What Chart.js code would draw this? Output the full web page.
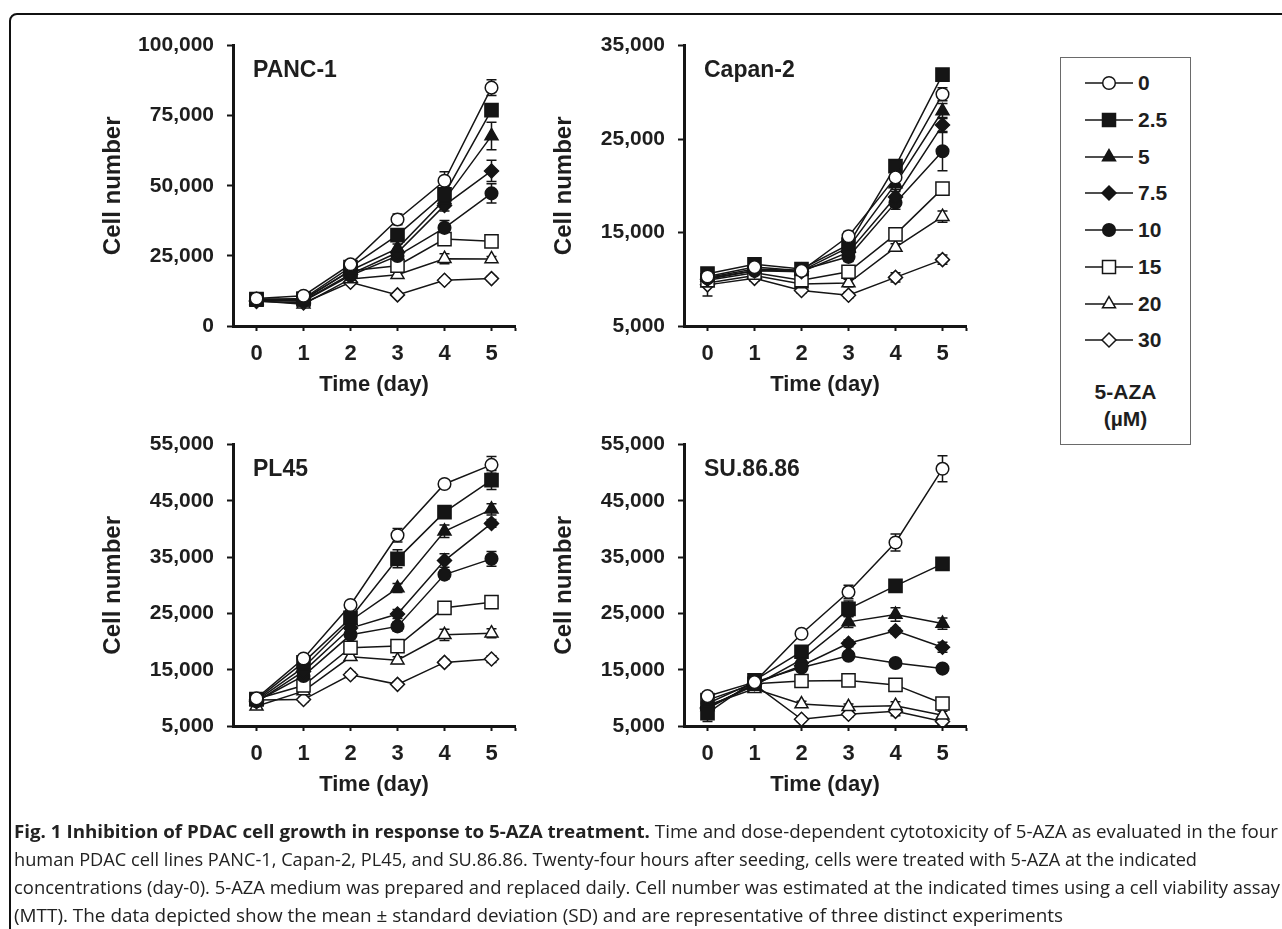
<!DOCTYPE html>
<html>
<head>
<meta charset="utf-8">
<script src="https://cdn.jsdelivr.net/npm/chart.js@4.4.0/dist/chart.umd.min.js"></script>
<style>
  html, body { margin:0; padding:0; background:#fff; width:1282px; height:929px; overflow:hidden; }
  body { position:relative; }
  .frame { position:absolute; left:9px; top:13px; width:1400px; height:1000px; border:2px solid #111; border-radius:8px; box-sizing:border-box; }
  .panel { position:absolute; }
  #legend { position:absolute; left:1060px; top:57px; width:131px; height:388px; border:1px solid #6a6a6a; box-sizing:border-box; font-family:"Liberation Sans", Arial, sans-serif; font-weight:bold; color:#1e1e1e; }
  .lrow { position:absolute; left:23px; height:20px; width:110px; }
  .lrow svg { position:absolute; left:0; top:0; }
  .lrow span { position:absolute; left:54px; top:-2px; font-size:21px; line-height:24px; }
  .ltitle { position:absolute; left:0; width:129px; text-align:center; font-size:21px; line-height:24px; }
  #caption { position:absolute; left:14px; top:817px; font-family:"Open Sans", sans-serif; font-size:17.5px; line-height:28px; color:#222; }
  #caption div { white-space:nowrap; height:28px; }
  #caption span.line { display:inline-block; transform-origin:0 50%; }
  #caption b { font-weight:700; }
</style>
</head>
<body>
<div class="frame"></div>

<canvas id="c1" class="panel"></canvas>
<canvas id="c2" class="panel"></canvas>
<canvas id="c3" class="panel"></canvas>
<canvas id="c4" class="panel"></canvas>

<div id="legend"></div>

<div id="caption">
  <div><span class="line" data-w="1264"><b>Fig. 1 Inhibition of PDAC cell growth in response to 5-AZA treatment.</b> Time and dose-dependent cytotoxicity of 5-AZA as evaluated in the four</span></div>
  <div><span class="line" data-w="1183">human PDAC cell lines PANC-1, Capan-2, PL45, and SU.86.86. Twenty-four hours after seeding, cells were treated with 5-AZA at the indicated</span></div>
  <div><span class="line" data-w="1266">concentrations (day-0). 5-AZA medium was prepared and replaced daily. Cell number was estimated at the indicated times using a cell viability assay</span></div>
  <div><span class="line" data-w="1049">(MTT). The data depicted show the mean ± standard deviation (SD) and are representative of three distinct experiments</span></div>
</div>

<script>
// ---------------- DATA ----------------
const days = [0, 1, 2, 3, 4, 5];
const doses = ['0', '2.5', '5', '7.5', '10', '15', '20', '30'];
const legendTitle = ['5-AZA', '(µM)'];
const xTitle = 'Time (day)';
const yTitle = 'Cell number';

const cellLines = ['PANC-1', 'Capan-2', 'PL45', 'SU.86.86'];

const panc1Ticks = [0, 25000, 50000, 75000, 100000];
const capan2Ticks = [5000, 15000, 25000, 35000];
const pl45Ticks = [5000, 15000, 25000, 35000, 45000, 55000];
const su8686Ticks = [5000, 15000, 25000, 35000, 45000, 55000];

// rows: doses 0, 2.5, 5, 7.5, 10, 15, 20, 30 ; columns: days 0..5
const panc1Mean = [
  [9800, 10800, 22000, 38000, 51800, 85000],
  [9400, 9800, 21000, 32400, 47000, 77000],
  [9200, 9400, 19800, 27700, 45000, 67800],
  [9000, 9000, 18500, 26200, 43000, 55300],
  [9300, 8800, 18000, 25000, 35000, 47300],
  [9600, 9500, 19700, 21500, 31000, 30200],
  [9000, 7800, 16800, 18300, 24000, 23900],
  [8800, 8200, 15600, 11100, 16300, 16900]
];
const panc1SD = [
  [600, 500, 800, 1900, 3200, 2800],
  [500, 400, 700, 1500, 2200, 1600],
  [500, 400, 700, 1500, 2000, 4900],
  [500, 400, 700, 1200, 2000, 3800],
  [500, 400, 700, 1200, 2600, 3400],
  [500, 400, 700, 1000, 1200, 900],
  [500, 400, 700, 1000, 1800, 900],
  [400, 400, 700, 600, 900, 800]
];

const capan2Mean = [
  [10300, 11300, 10900, 14600, 20900, 29800],
  [10600, 11600, 11100, 13700, 22100, 31900],
  [10200, 11100, 10900, 13400, 20200, 28000],
  [10000, 10900, 10800, 12900, 18800, 26500],
  [10100, 10900, 11000, 12400, 18200, 23700],
  [9900, 10700, 9900, 10800, 14800, 19700],
  [9600, 10400, 9500, 9600, 13400, 16700],
  [9400, 10100, 8800, 8300, 10200, 12100]
];
const capan2SD = [
  [400, 300, 300, 500, 700, 700],
  [300, 300, 300, 500, 500, 500],
  [300, 300, 300, 500, 600, 800],
  [300, 300, 300, 500, 600, 800],
  [400, 300, 300, 500, 700, 2100],
  [400, 300, 300, 400, 400, 500],
  [400, 300, 300, 400, 400, 600],
  [1200, 300, 300, 300, 500, 500]
];

const pl45Mean = [
  [9900, 17000, 26500, 38900, 48000, 51400],
  [9700, 16300, 24200, 34700, 43000, 48700],
  [9500, 15400, 23700, 29500, 39600, 43500],
  [9300, 14700, 22400, 24900, 34400, 41000],
  [9400, 13900, 21200, 22700, 31900, 34700],
  [9800, 12200, 18900, 19200, 26000, 27000],
  [8500, 11200, 17300, 16700, 21200, 21500],
  [9600, 9700, 14100, 12400, 16300, 16900]
];
const pl45SD = [
  [500, 500, 500, 1200, 600, 1500],
  [500, 500, 600, 1600, 600, 1700],
  [500, 500, 600, 800, 1100, 1000],
  [500, 500, 600, 800, 1200, 700],
  [500, 500, 600, 800, 800, 1300],
  [500, 500, 600, 600, 600, 600],
  [500, 500, 600, 600, 1000, 800],
  [500, 500, 500, 400, 500, 600]
];

const su8686Mean = [
  [10300, 12800, 21400, 28800, 37600, 50700],
  [7300, 13100, 18200, 25800, 29900, 33800],
  [8400, 12200, 16800, 23500, 24800, 23200],
  [8100, 12500, 15700, 19700, 21900, 19000],
  [9000, 12800, 15400, 17500, 16200, 15200],
  [9600, 12500, 13000, 13100, 12300, 9000],
  [8700, 11600, 8900, 8400, 8600, 6900],
  [8300, 12400, 6200, 7100, 7600, 5800]
];
const su8686SD = [
  [800, 400, 500, 1200, 1500, 2300],
  [1500, 400, 600, 1400, 500, 500],
  [600, 400, 500, 1000, 1200, 1000],
  [600, 400, 500, 600, 500, 900],
  [600, 400, 500, 600, 500, 500],
  [600, 400, 500, 500, 500, 500],
  [600, 400, 500, 500, 700, 700],
  [600, 400, 400, 500, 800, 500]
];

// ---------------- STYLE ----------------
const INK = '#151515';
const TEXT = '#1e1e1e';
const FONT = '"Liberation Sans", Arial, Helvetica, sans-serif';
const doseStyles = [
  { shape: 'circle',   filled: false, r: 6.3 },
  { shape: 'rect',     filled: true,  r: 9.3 },
  { shape: 'triangle', filled: true,  r: 7.5 },
  { shape: 'rectRot',  filled: true,  r: 7 },
  { shape: 'circle',   filled: true,  r: 6.3 },
  { shape: 'rect',     filled: false, r: 9.3 },
  { shape: 'triangle', filled: false, r: 7.5 },
  { shape: 'rectRot',  filled: false, r: 7 }
];

// ---------------- PLUGINS ----------------
const errorBars = {
  id: 'errorBars',
  beforeDatasetsDraw(chart) {
    const { ctx, scales: { x, y } } = chart;
    ctx.save();
    ctx.strokeStyle = INK;
    ctx.lineWidth = 1.5;
    chart.data.datasets.forEach(ds => {
      ds.data.forEach((p, i) => {
        const e = ds.sd[i];
        if (!e) return;
        const px = x.getPixelForValue(p.x);
        const t = y.getPixelForValue(p.y + e);
        const b = y.getPixelForValue(p.y - e);
        ctx.beginPath();
        ctx.moveTo(px, t); ctx.lineTo(px, b);
        ctx.moveTo(px - 5, t); ctx.lineTo(px + 5, t);
        ctx.moveTo(px - 5, b); ctx.lineTo(px + 5, b);
        ctx.stroke();
      });
    });
    ctx.restore();
  }
};

const panelTitle = {
  id: 'panelTitle',
  afterDraw(chart, args, opts) {
    const { ctx, chartArea } = chart;
    ctx.save();
    ctx.fillStyle = TEXT;
    ctx.font = 'bold 23px ' + FONT;
    ctx.textBaseline = 'alphabetic';
    ctx.textAlign = 'left';
    ctx.fillText(opts.text, chartArea.left + 20, chartArea.top + 31);
    ctx.restore();
  }
};

// ---------------- BUILD ----------------
function buildDatasets(means, sds) {
  return doses.map((d, k) => ({
    label: d,
    data: days.map((dx, i) => ({ x: dx, y: means[k][i] })),
    sd: sds[k],
    borderColor: INK,
    borderWidth: 1.5,
    pointStyle: doseStyles[k].shape,
    pointRadius: doseStyles[k].r,
    pointHoverRadius: doseStyles[k].r,
    pointBackgroundColor: doseStyles[k].filled ? INK : '#ffffff',
    pointBorderColor: INK,
    pointBorderWidth: 1.5,
    tension: 0,
    fill: false
  }));
}

function makePanel(id, left, top, height, title, means, sds, yTicks) {
  const cv = document.getElementById(id);
  const W = 470;
  cv.width = W; cv.height = height;
  cv.style.left = left + 'px'; cv.style.top = top + 'px';
  cv.style.width = W + 'px'; cv.style.height = height + 'px';
  return new Chart(cv, {
    type: 'line',
    data: { datasets: buildDatasets(means, sds) },
    options: {
      responsive: false,
      animation: false,
      devicePixelRatio: 1,
      layout: { padding: { left: 39.4, right: 15, top: 22, bottom: 22 } },
      plugins: {
        legend: { display: false },
        tooltip: { enabled: false },
        panelTitle: { text: title }
      },
      scales: {
        x: {
          type: 'linear',
          min: -0.5, max: 5.5,
          afterBuildTicks: s => { s.ticks = days.concat([5.5]).map(v => ({ value: v })); },
          afterFit: s => { s.height = 72; },
          grid: { drawOnChartArea: false, drawTicks: true, tickLength: 5, tickWidth: 2, tickColor: INK },
          border: { display: true, color: INK, width: 3 },
          ticks: {
            autoSkip: false, maxRotation: 0, padding: 10, color: TEXT,
            font: { family: FONT, size: 22, weight: 'bold' },
            callback: v => (days.includes(v) ? String(v) : '')
          },
          title: { display: true, text: xTitle, color: TEXT, padding: 0, font: { family: FONT, size: 22, weight: 'bold' } }
        },
        y: {
          type: 'linear',
          min: yTicks[0], max: yTicks[yTicks.length - 1],
          afterBuildTicks: s => { s.ticks = yTicks.map(v => ({ value: v })); },
          afterFit: s => { s.width = 133.6; },
          grid: { drawOnChartArea: false, drawTicks: true, tickLength: 6, tickWidth: 2, tickColor: INK },
          border: { display: true, color: INK, width: 3 },
          ticks: {
            autoSkip: false, padding: 13, color: TEXT,
            font: { family: FONT, size: 21, weight: 'bold' },
            callback: v => Number(v).toLocaleString('en-US')
          },
          title: { display: true, text: yTitle, color: TEXT, padding: 0, font: { family: FONT, size: 24, weight: 'bold' } }
        }
      }
    },
    plugins: [errorBars, panelTitle]
  });
}

makePanel('c1', 60, 20, 400, cellLines[0], panc1Mean, panc1SD, panc1Ticks);
makePanel('c2', 511, 20, 400, cellLines[1], capan2Mean, capan2SD, capan2Ticks);
makePanel('c3', 60, 419, 401, cellLines[2], pl45Mean, pl45SD, pl45Ticks);
makePanel('c4', 511, 419, 401, cellLines[3], su8686Mean, su8686SD, su8686Ticks);

// ---------------- LEGEND (HTML) ----------------
function symbolSVG(st) {
  const cx = 25, cy = 10;
  const fill = st.filled ? INK : '#fff';
  let shape = '';
  if (st.shape === 'circle') {
    shape = `<circle cx="${cx}" cy="${cy}" r="6.3" fill="${fill}" stroke="${INK}" stroke-width="1.5"/>`;
  } else if (st.shape === 'rect') {
    shape = `<rect x="${cx - 6.5}" y="${cy - 6.5}" width="13" height="13" fill="${fill}" stroke="${INK}" stroke-width="1.5"/>`;
  } else if (st.shape === 'triangle') {
    const r = 7.5, h = r * Math.sqrt(3) / 2;
    shape = `<polygon points="${cx},${cy - r} ${cx + h},${cy + r / 2} ${cx - h},${cy + r / 2}" fill="${fill}" stroke="${INK}" stroke-width="1.5"/>`;
  } else {
    const r = 7;
    shape = `<polygon points="${cx - r},${cy} ${cx},${cy - r} ${cx + r},${cy} ${cx},${cy + r}" fill="${fill}" stroke="${INK}" stroke-width="1.5"/>`;
  }
  return `<svg width="50" height="20" viewBox="0 0 50 20"><line x1="1" y1="${cy}" x2="49" y2="${cy}" stroke="${INK}" stroke-width="1.5"/>${shape}</svg>`;
}
const legend = document.getElementById('legend');
doses.forEach((d, k) => {
  const row = document.createElement('div');
  row.className = 'lrow';
  row.style.top = (15.3 + k * 36.7) + 'px';
  row.innerHTML = symbolSVG(doseStyles[k]) + `<span>${d}</span>`;
  legend.appendChild(row);
});
legendTitle.forEach((t, i) => {
  const el = document.createElement('div');
  el.className = 'ltitle';
  el.style.top = (322 + i * 26.5) + 'px';
  el.textContent = t;
  legend.appendChild(el);
});

// ---------------- CAPTION FIT ----------------
function fitCaption() {
  document.querySelectorAll('#caption span.line').forEach(sp => {
    sp.style.transform = 'none';
    const w = sp.getBoundingClientRect().width;
    const target = parseFloat(sp.dataset.w);
    if (w > 0) sp.style.transform = `scaleX(${target / w})`;
  });
}
fitCaption();
if (document.fonts && document.fonts.ready) document.fonts.ready.then(fitCaption);
</script>
</body>
</html>
